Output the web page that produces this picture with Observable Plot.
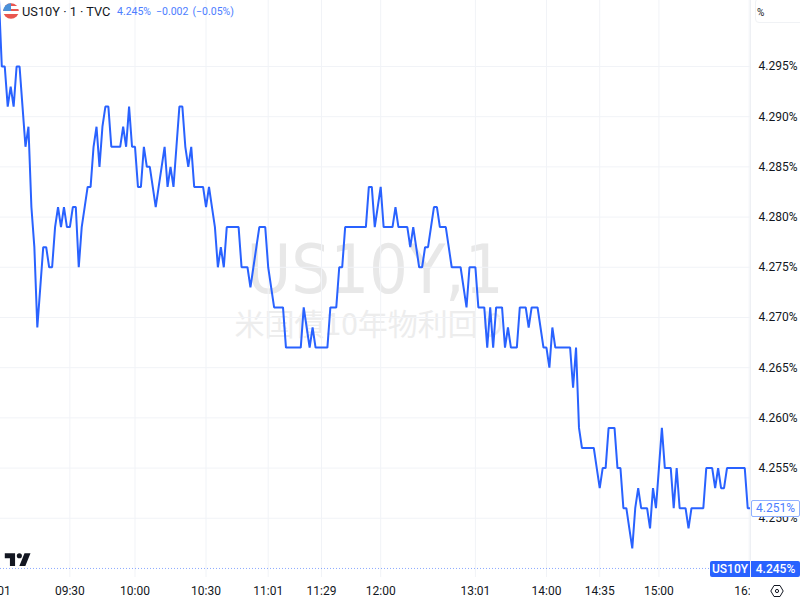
<!DOCTYPE html>
<html><head><meta charset="utf-8">
<script src="https://cdn.jsdelivr.net/npm/d3@7"></script>
<script src="https://cdn.jsdelivr.net/npm/@observablehq/plot@0.6"></script>
<style>
html,body{margin:0;padding:0;background:#fff;overflow:hidden}
#wrap{position:relative;width:800px;height:598px;font-family:Roboto,sans-serif;overflow:hidden}
#wrap svg{display:block}
.abs{position:absolute;white-space:nowrap}
</style></head><body><div id="wrap"></div>
<script>
const yields = [
4.302,4.295,4.295,4.291,4.293,4.291,4.295,4.295,4.291,4.287,4.289,4.281,4.277,4.269,4.273,4.277,4.277,4.275,4.275,4.279,
4.281,4.279,4.281,4.279,4.279,4.281,4.281,4.275,4.279,4.281,4.283,4.283,4.287,4.289,4.285,4.289,4.291,4.291,4.287,4.287,
4.287,4.287,4.289,4.287,4.291,4.287,4.287,4.283,4.283,4.287,4.285,4.285,4.283,4.281,4.283,4.285,4.287,4.283,4.285,4.283,
4.287,4.291,4.291,4.287,4.285,4.287,4.283,4.283,4.283,4.283,4.281,4.283,4.281,4.279,4.275,4.277,4.275,4.279,4.279,4.279,
4.279,4.279,4.275,4.275,4.275,4.273,4.275,4.277,4.279,4.279,4.279,4.275,4.273,4.271,4.271,4.271,4.271,4.267,4.267,4.267,
4.267,4.267,4.267,4.271,4.269,4.267,4.269,4.267,4.267,4.267,4.267,4.267,4.271,4.271,4.271,4.275,4.275,4.279,4.279,4.279,
4.279,4.279,4.279,4.279,4.279,4.283,4.283,4.279,4.281,4.283,4.279,4.279,4.279,4.279,4.281,4.279,4.279,4.279,4.279,4.277,
4.279,4.277,4.275,4.275,4.277,4.277,4.279,4.281,4.281,4.279,4.279,4.279,4.277,4.275,4.275,4.275,4.275,4.273,4.271,4.275,
4.275,4.275,4.271,4.271,4.271,4.267,4.271,4.267,4.271,4.271,4.271,4.267,4.269,4.267,4.267,4.267,4.271,4.271,4.271,4.269,
4.271,4.271,4.271,4.269,4.267,4.267,4.265,4.269,4.267,4.267,4.267,4.267,4.267,4.267,4.263,4.267,4.259,4.257,4.257,4.257,
4.257,4.257,4.255,4.253,4.255,4.255,4.259,4.259,4.259,4.255,4.255,4.251,4.251,4.249,4.247,4.251,4.253,4.251,4.251,4.251,
4.249,4.253,4.251,4.255,4.259,4.255,4.255,4.255,4.251,4.255,4.251,4.251,4.251,4.249,4.251,4.251,4.251,4.251,4.251,4.255,
4.255,4.255,4.253,4.255,4.253,4.253,4.255,4.255,4.255,4.255,4.255,4.255,4.255,4.251,4.251
];
const timeTicks  = [-1,24,46,70,91,109,129,161,185,203,223,253.5];
const timeLabels = ["09:01","09:30","10:00","10:30","11:01","11:29","12:00","13:01","14:00","14:35","15:00","16:00"];
const boldLabels = ["10:00","12:00","14:00","15:00","16:00"];
const priceTicks = [4.295,4.29,4.285,4.28,4.275,4.27,4.265,4.26,4.255,4.25];
const lastValue = 4.245;

const bars = yields.map((v,i)=>({i,v}));
const pts = timeTicks.map((t,k)=>({t,l:timeLabels[k]}));
const xDomain=[0.561,253.94], yDomain=[4.2441,4.30157];
const grid="#f1f3f7", blue="#2962ff";
const FONT="Roboto, sans-serif", CJK="'Noto Sans CJK JP', sans-serif";

const plot = Plot.plot({
  width:800,height:598,marginLeft:0,marginRight:50,marginTop:0,marginBottom:21,
  style:{background:"transparent",fontFamily:FONT},
  x:{domain:xDomain,axis:null},
  y:{domain:yDomain,axis:null},
  marks:[
    Plot.text(["US10Y,1"],{frameAnchor:"top-left",dx:246,dy:271,fontSize:68,fill:"#e8e8e8",textAnchor:"start",lineAnchor:"middle",fontFamily:"'DejaVu Sans Condensed', 'DejaVu Sans', sans-serif"}),
    Plot.text(["米国債10年物利回り"],{frameAnchor:"top-left",dx:234,dy:325,fontSize:30,fill:"#ededed",textAnchor:"start",lineAnchor:"middle",fontFamily:CJK}),
    Plot.ruleY(priceTicks,{stroke:grid,strokeWidth:1}),
    Plot.ruleX(timeTicks,{stroke:grid,strokeWidth:1}),
    Plot.ruleY([lastValue],{stroke:blue,strokeOpacity:.55,strokeWidth:1,strokeDasharray:"1 2"}),
    Plot.line(bars,{x:"i",y:"v",stroke:blue,strokeWidth:2,curve:"linear",strokeLinejoin:"miter",clip:true}),
    Plot.text(pts,{x:"t",y:()=>yDomain[0],text:"l",dy:14,clip:false,fontSize:12,
      fill:"#131722",fontWeight:d=>boldLabels.includes(d.l)?500:400,lineAnchor:"middle"}),
    Plot.rect([0],{x1:()=>xDomain[1],x2:()=>xDomain[1]+20,y1:()=>yDomain[0]-0.01,y2:()=>yDomain[1],fill:"#fff"}),
    Plot.ruleX([xDomain[1]],{y1:yDomain[0],y2:yDomain[1],stroke:"#eef0f4",strokeWidth:1}),
    Plot.text(priceTicks,{x:()=>xDomain[1],y:d=>d,text:d=>d.toFixed(3)+"%",dx:8,textAnchor:"start",fontSize:12,fill:"#131722"})
  ]
});
const wrap=document.getElementById("wrap");
wrap.appendChild(plot);
function add(html,css){const d=document.createElement("div");d.className="abs";d.style.cssText=css;d.innerHTML=html;wrap.appendChild(d);return d;}
// legend
add(`<svg width="16" height="16" viewBox="0 0 16 16"><defs><clipPath id="c"><circle cx="8" cy="8" r="7.8"/></clipPath></defs><g clip-path="url(#c)"><rect width="16" height="16" fill="#fff"/><rect y="0" width="16" height="3" fill="#e9564f"/><rect y="6" width="16" height="2" fill="#e9564f"/><rect y="11" width="16" height="5" fill="#e9564f"/><rect width="8" height="8" fill="#4a90d9"/></g></svg>`,"left:2.5px;top:3px;width:16px;height:16px");
add("US10Y · 1 · TVC","left:22px;top:3px;font-size:12.8px;line-height:17px;color:#131722");
add("4.245%",`left:117px;top:3px;font-size:10.5px;line-height:17px;color:#4c7dff`);
add("−0.002",`left:156px;top:3px;font-size:10.5px;line-height:17px;color:#4c7dff`);
add("(−0.05%)",`left:192.5px;top:3px;font-size:10.5px;line-height:17px;color:#4c7dff`);
// price scale unit
add("%","left:757px;top:7px;font-size:10px;line-height:12px;color:#131722");
add("","left:755px;top:-2px;width:60px;height:23px;border:1px solid #f0f2f5;border-radius:4px");
// tags
add("4.251%",`left:751px;top:500px;width:47px;height:15px;border:1px solid #8fb0ff;border-radius:2px;background:#fff;color:#4c7dff;font-size:12px;line-height:15px;text-align:center`);
add("US10Y",`left:710px;top:561px;width:40px;height:16px;background:${blue};border-radius:2px 0 0 2px;color:#fff;font-size:12px;font-weight:500;line-height:16px;text-align:center`);
add("4.245%",`left:751px;top:561px;width:49px;height:16px;background:${blue};border-radius:0 2px 2px 0;color:#fff;font-size:12px;font-weight:500;line-height:16px;text-align:center`);
// logo and settings icon
add(`<svg width="31" height="24" viewBox="0 0 36 28"><path fill="#131722" d="M14 6H2v6h6v9h6V6Zm12 15h-7l6-15h7l-6 15Zm-7-9a3 3 0 1 0 0-6 3 3 0 0 0 0 6Z"/></svg>`,"left:3px;top:548px");
add(`<svg width="14" height="14" viewBox="0 0 14 14" fill="none" stroke="#131722" stroke-width="1"><path d="M4 1.5h6l3.2 5.5-3.2 5.5H4L.8 7z"/><circle cx="7" cy="7" r="1.6"/></svg>`,"left:770px;top:584px");
</script></body></html>
